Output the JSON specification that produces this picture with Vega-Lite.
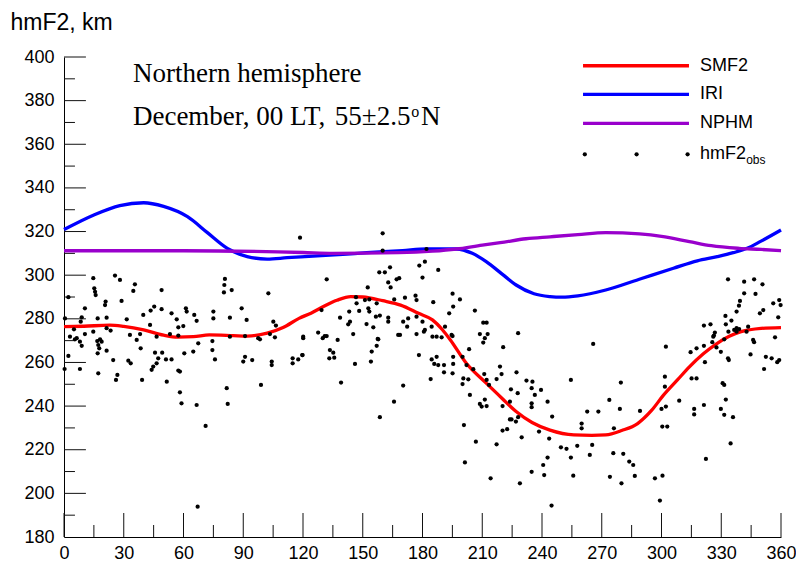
{
  "$schema": "https://vega.github.io/schema/vega-lite/v6.json",
  "width": 717,
  "height": 480,
  "autosize": {"type": "none"},
  "padding": {"left": 64, "top": 57, "right": 15, "bottom": 33},
  "background": "white",
  "config": {"view": {"stroke": null}, "font": "Liberation Sans"},
  "datasets": {
    "curves": [
      {"s":"SMF2","x":0,"y":276.4},{"s":"SMF2","x":10,"y":276.6},{"s":"SMF2","x":23,"y":277.1},{"s":"SMF2","x":30,"y":276.5},{"s":"SMF2","x":40,"y":274.9},{"s":"SMF2","x":50,"y":272.5},{"s":"SMF2","x":57,"y":271.6},{"s":"SMF2","x":65,"y":271.8},{"s":"SMF2","x":73,"y":272.6},{"s":"SMF2","x":85,"y":272.3},{"s":"SMF2","x":92,"y":272.1},{"s":"SMF2","x":102,"y":273.4},{"s":"SMF2","x":110,"y":276},{"s":"SMF2","x":118,"y":280.2},{"s":"SMF2","x":124,"y":282.6},{"s":"SMF2","x":130,"y":285.5},{"s":"SMF2","x":137,"y":288.5},{"s":"SMF2","x":144,"y":290.2},{"s":"SMF2","x":150,"y":290},{"s":"SMF2","x":160,"y":288.3},{"s":"SMF2","x":169,"y":286.3},{"s":"SMF2","x":178,"y":282.5},{"s":"SMF2","x":185,"y":279.5},{"s":"SMF2","x":190,"y":275},{"s":"SMF2","x":194,"y":270.3},{"s":"SMF2","x":202,"y":259.6},{"s":"SMF2","x":212,"y":250.5},{"s":"SMF2","x":220,"y":243.5},{"s":"SMF2","x":227,"y":237.5},{"s":"SMF2","x":235,"y":232.5},{"s":"SMF2","x":244,"y":229},{"s":"SMF2","x":256,"y":226.8},{"s":"SMF2","x":265,"y":226.6},{"s":"SMF2","x":272,"y":226.8},{"s":"SMF2","x":280,"y":228.8},{"s":"SMF2","x":288,"y":232},{"s":"SMF2","x":295,"y":238},{"s":"SMF2","x":301,"y":245},{"s":"SMF2","x":308,"y":252},{"s":"SMF2","x":314,"y":258},{"s":"SMF2","x":321,"y":264},{"s":"SMF2","x":328,"y":268.8},{"s":"SMF2","x":334,"y":272},{"s":"SMF2","x":340,"y":274.1},{"s":"SMF2","x":350,"y":275.6},{"s":"SMF2","x":360,"y":276},
      {"s":"IRI","x":0,"y":320.9},{"s":"IRI","x":15,"y":327.6},{"s":"IRI","x":28,"y":331.9},{"s":"IRI","x":40,"y":333.2},{"s":"IRI","x":50,"y":331.5},{"s":"IRI","x":62,"y":326.8},{"s":"IRI","x":72,"y":319.5},{"s":"IRI","x":82,"y":312.3},{"s":"IRI","x":92,"y":308.5},{"s":"IRI","x":102,"y":307.4},{"s":"IRI","x":112,"y":308},{"s":"IRI","x":123,"y":308.6},{"s":"IRI","x":140,"y":309.5},{"s":"IRI","x":152,"y":310.3},{"s":"IRI","x":170,"y":311.3},{"s":"IRI","x":182,"y":312},{"s":"IRI","x":197,"y":312},{"s":"IRI","x":205,"y":310},{"s":"IRI","x":212,"y":306.2},{"s":"IRI","x":220,"y":300.5},{"s":"IRI","x":227,"y":295.5},{"s":"IRI","x":236,"y":291.5},{"s":"IRI","x":244,"y":290.2},{"s":"IRI","x":250,"y":289.9},{"s":"IRI","x":258,"y":290.5},{"s":"IRI","x":272,"y":293.2},{"s":"IRI","x":290,"y":298.5},{"s":"IRI","x":306,"y":303.2},{"s":"IRI","x":318,"y":306.6},{"s":"IRI","x":328,"y":308.5},{"s":"IRI","x":336,"y":310.3},{"s":"IRI","x":343,"y":312.3},{"s":"IRI","x":350,"y":315.6},{"s":"IRI","x":360,"y":320.7},
      {"s":"NPHM","x":0,"y":311.2},{"s":"NPHM","x":60,"y":311.2},{"s":"NPHM","x":120,"y":310.4},{"s":"NPHM","x":135,"y":310},{"s":"NPHM","x":168,"y":310.3},{"s":"NPHM","x":185,"y":311},{"s":"NPHM","x":197,"y":312},{"s":"NPHM","x":210,"y":313.8},{"s":"NPHM","x":219,"y":314.9},{"s":"NPHM","x":232,"y":316.7},{"s":"NPHM","x":244,"y":317.6},{"s":"NPHM","x":258,"y":318.6},{"s":"NPHM","x":272,"y":319.5},{"s":"NPHM","x":289,"y":318.9},{"s":"NPHM","x":300,"y":317.8},{"s":"NPHM","x":314,"y":315.4},{"s":"NPHM","x":325,"y":313.5},{"s":"NPHM","x":339,"y":312.3},{"s":"NPHM","x":350,"y":311.8},{"s":"NPHM","x":360,"y":311.2}
    ],
    "obs": [
      {"x":118.5,"y":317.2},{"x":14.7,"y":298.6},{"x":25.6,"y":299.8},{"x":28.1,"y":297.8},{"x":15.2,"y":294.0},{"x":15.6,"y":292.4},{"x":15.9,"y":290.9},{"x":35.6,"y":295.8},{"x":34.8,"y":292.8},{"x":2.2,"y":289.9},{"x":49,"y":293.2},{"x":80.8,"y":298.3},{"x":80.5,"y":295.5},{"x":80.3,"y":292.1},{"x":84.2,"y":293.2},{"x":102.6,"y":291.7},{"x":28.9,"y":288.2},{"x":20.6,"y":286.3},{"x":20.9,"y":287.9},{"x":10.5,"y":284.8},{"x":45.3,"y":285.6},{"x":43.5,"y":283.8},{"x":49,"y":284.4},{"x":89.2,"y":284.8},{"x":61.2,"y":284.8},{"x":54,"y":282.5},{"x":61.6,"y":283.3},{"x":65.4,"y":281.8},{"x":39.8,"y":281.8},{"x":75,"y":283.3},{"x":75,"y":280.2},{"x":0.5,"y":280.2},{"x":8.9,"y":280.7},{"x":8.4,"y":278.7},{"x":16.9,"y":280.2},{"x":21.4,"y":280.5},{"x":31.5,"y":279.8},{"x":56.6,"y":279.8},{"x":66.6,"y":279.1},{"x":83.3,"y":280.5},{"x":91.7,"y":279.5},{"x":106.4,"y":276.9},{"x":105.1,"y":278.7},{"x":43.2,"y":277.2},{"x":57.4,"y":276.1},{"x":59.9,"y":276.7},{"x":5,"y":275.2},{"x":14.7,"y":274.1},{"x":21.4,"y":275.7},{"x":23.4,"y":274.6},{"x":10.5,"y":273},{"x":3,"y":271.8},{"x":6.4,"y":271.1},{"x":33.1,"y":272.6},{"x":38.2,"y":273},{"x":46.5,"y":271.8},{"x":53.2,"y":273},{"x":57.4,"y":272.3},{"x":83.3,"y":271.8},{"x":90.9,"y":272.1},{"x":97.5,"y":271.1},{"x":103.4,"y":273},{"x":120.1,"y":271.8},{"x":18.1,"y":270.6},
      {"x":5.5,"y":270.6},{"x":8,"y":269.5},{"x":8.9,"y":267.6},{"x":2.2,"y":263},{"x":0.3,"y":257},{"x":8,"y":257},{"x":16.7,"y":269.8},{"x":17.2,"y":268},{"x":17.7,"y":266.5},{"x":18.9,"y":269.5},{"x":16.9,"y":264.2},{"x":21.4,"y":265.4},{"x":17.2,"y":255},{"x":24.7,"y":261.1},{"x":26.8,"y":254.3},{"x":26.1,"y":252},{"x":32.3,"y":260.8},{"x":33.5,"y":259.6},{"x":36.5,"y":270.3},{"x":38.5,"y":266.5},{"x":39.2,"y":252},{"x":45.7,"y":264.5},{"x":47.3,"y":261.9},{"x":46.5,"y":259.6},{"x":44.8,"y":258.1},{"x":44,"y":256.6},{"x":49.3,"y":264.5},{"x":51.2,"y":261.4},{"x":54,"y":261.4},{"x":51.6,"y":251.2},{"x":57.4,"y":256.3},{"x":58.2,"y":255.8},{"x":58.2,"y":246.3},{"x":59,"y":241.3},{"x":60.4,"y":264.2},{"x":64.9,"y":265},{"x":67.4,"y":268.8},{"x":66.6,"y":240.5},{"x":71.1,"y":230.9},{"x":67.1,"y":193.9},{"x":74.5,"y":269.8},{"x":74.5,"y":265.7},{"x":75.8,"y":261.4},{"x":81.7,"y":248.2},{"x":82.2,"y":241},{"x":90,"y":260.4},{"x":90.9,"y":262.6},{"x":94.5,"y":261.1},{"x":98.9,"y":249.7},{"x":98.4,"y":270.6},{"x":104.3,"y":260.4},{"x":104.3,"y":258.8},{"x":105.9,"y":271.5},{"x":114.8,"y":261.9},{"x":114.8,"y":259.6},{"x":117.6,"y":261.4},{"x":119.6,"y":263.4},
      {"x":160,"y":319.2},{"x":160,"y":311.2},{"x":182,"y":312},{"x":181.2,"y":306.2},{"x":178.4,"y":304.4},{"x":187.9,"y":302.4},{"x":158.3,"y":301.3},{"x":161.1,"y":301.3},{"x":163.7,"y":303.6},{"x":180,"y":298.9},{"x":131.9,"y":298.1},{"x":168.3,"y":298.6},{"x":167,"y":298.1},{"x":162.8,"y":296.7},{"x":164,"y":294.4},{"x":152.5,"y":294.4},{"x":165.8,"y":288.9},{"x":171.2,"y":289.7},{"x":176.5,"y":290.6},{"x":177,"y":288.6},{"x":185.4,"y":287.6},{"x":195.1,"y":291.5},{"x":198.8,"y":288.9},{"x":195.4,"y":285.6},{"x":193.4,"y":282.5},{"x":146.6,"y":289.9},{"x":146.9,"y":287.1},{"x":151.1,"y":288.6},{"x":153.3,"y":288.9},{"x":157,"y":287.1},{"x":143.2,"y":283.3},{"x":148.2,"y":283.6},{"x":152.8,"y":284.8},{"x":153.3,"y":283.3},{"x":156.6,"y":281},{"x":158.6,"y":281.5},{"x":162.8,"y":280.5},{"x":138.6,"y":280.5},{"x":143.6,"y":278.7},{"x":142.7,"y":277.5},{"x":151.9,"y":277.6},{"x":155.3,"y":276.1},{"x":162.8,"y":278.7},{"x":170.3,"y":278.7},{"x":172.8,"y":280.2},{"x":177,"y":281},{"x":172.3,"y":276.4},{"x":180,"y":278.7},{"x":181.2,"y":274.9},{"x":184.6,"y":276.4},{"x":191.3,"y":276.4},{"x":129.3,"y":284},{"x":120.1,"y":271.1},{"x":127.6,"y":273.7},{"x":130.9,"y":272.1},{"x":145.2,"y":273},{"x":157.8,"y":270.6},{"x":168.7,"y":272.6},{"x":177,"y":273},{"x":187.1,"y":271.8},{"x":194.6,"y":272.6},{"x":210.5,"y":278.2},{"x":206.3,"y":283.8},{"x":228,"y":273.4},{"x":212.2,"y":278.2},
      {"x":119.8,"y":263.4},{"x":129.9,"y":271.1},{"x":131.9,"y":272.1},{"x":133.5,"y":265.7},{"x":135.2,"y":264.5},{"x":133.2,"y":261.9},{"x":135.7,"y":262.2},{"x":137.4,"y":270.3},{"x":139.1,"y":250.8},{"x":146.1,"y":259.3},{"x":154.1,"y":260.4},{"x":154.5,"y":265},{"x":157,"y":267.6},{"x":157.5,"y":270.8},{"x":167.8,"y":272.6},{"x":180.7,"y":274.1},{"x":170.3,"y":249.4},{"x":165.7,"y":242},{"x":158.6,"y":234.9},{"x":178.2,"y":263.4},{"x":184.6,"y":261.4},{"x":187.1,"y":262.6},{"x":185.9,"y":259.3},{"x":187.9,"y":258.8},{"x":190.8,"y":258.8},{"x":185,"y":271.8},{"x":189.6,"y":271.5},{"x":195.1,"y":272.1},{"x":184.1,"y":252.4},{"x":190.8,"y":255.5},{"x":195.4,"y":262.6},{"x":195.4,"y":259.3},{"x":195.1,"y":255},{"x":200.1,"y":262.6},{"x":202.1,"y":258.8},{"x":203.4,"y":266.1},{"x":200.5,"y":252.7},{"x":200.1,"y":250.1},{"x":203,"y":252.3},{"x":205.5,"y":256.9},{"x":203.8,"y":245.1},{"x":200.8,"y":231.3},{"x":201.3,"y":214.2},{"x":206.8,"y":223.7},{"x":208.8,"y":273},{"x":210.5,"y":269.1},{"x":211.3,"y":271.1},{"x":212.7,"y":273},{"x":220.5,"y":267},{"x":211,"y":254.7},{"x":212.2,"y":252},{"x":213.4,"y":249.7},{"x":217.2,"y":252.4},{"x":218.9,"y":258.1},{"x":219.7,"y":254.7},{"x":227.2,"y":255.5},{"x":232.2,"y":251.7},{"x":235.2,"y":251.2},{"x":234.8,"y":248.2},{"x":239.5,"y":247.4},{"x":224.4,"y":247.7},{"x":227.8,"y":245.9},{"x":236.4,"y":245.1},{"x":242.8,"y":242},{"x":234.8,"y":241.3},{"x":234.8,"y":239.5},{"x":223.9,"y":242},{"x":220.2,"y":240},{"x":208.8,"y":241},{"x":209.7,"y":239.8},{"x":211.3,"y":243},{"x":212.2,"y":240},{"x":223.9,"y":233.9},{"x":224.7,"y":233.9},{"x":228,"y":234.9},{"x":226.9,"y":232.9},{"x":220.2,"y":228.8},{"x":222.5,"y":229.4},{"x":229.8,"y":225.7},{"x":217.2,"y":222.5},{"x":238.5,"y":228.3},{"x":243.6,"y":225.1},{"x":242.8,"y":216.4},{"x":240.6,"y":213},{"x":234.8,"y":209.9},{"x":241.1,"y":208.4},{"x":228.9,"y":204.6},{"x":214.2,"y":206.9},
      {"x":244.8,"y":194.4},{"x":245.1,"y":235.2},{"x":249.5,"y":221.1},{"x":252.3,"y":220.4},{"x":254.5,"y":216.4},{"x":255.7,"y":208.1},{"x":254.5,"y":252},{"x":257.7,"y":221.8},{"x":259.9,"y":232},{"x":259.9,"y":229.8},{"x":262.7,"y":237.5},{"x":264,"y":217.6},{"x":265.2,"y":222.2},{"x":265.7,"y":268.5},{"x":268.3,"y":237.5},{"x":273.8,"y":242.8},{"x":274.1,"y":207.6},{"x":275.8,"y":218.4},{"x":276.1,"y":229.8},{"x":279.6,"y":250.8},{"x":279.1,"y":238.7},{"x":279.9,"y":204.6},{"x":280.8,"y":218.1},{"x":283.8,"y":214.6},{"x":285.8,"y":213},{"x":286.6,"y":208},{"x":289.2,"y":237.8},{"x":296.7,"y":206.9},{"x":299.2,"y":196.7},{"x":300.5,"y":208.1},{"x":300,"y":238.7},{"x":302.2,"y":239.8},{"x":300.4,"y":230.6},{"x":302.9,"y":230.6},{"x":301.7,"y":248.9},{"x":301.7,"y":253.5},{"x":302.2,"y":267.2},{"x":308.9,"y":242.5},{"x":314.6,"y":264.7},{"x":315.1,"y":252.7},{"x":317.6,"y":252.7},{"x":317.6,"y":266.5},{"x":316.4,"y":238.7},{"x":316.4,"y":236.2},{"x":321.3,"y":267.6},{"x":321.8,"y":260.1},{"x":321.3,"y":240.5},{"x":322.3,"y":215.8},{"x":325.5,"y":269.3},{"x":326.3,"y":272.3},{"x":326.8,"y":273.7},{"x":327.6,"y":266.9},{"x":329.8,"y":264.9},{"x":331.5,"y":270.6},{"x":333.6,"y":274.1},{"x":333.4,"y":261.9},{"x":333.8,"y":261.1},{"x":330.7,"y":250.5},{"x":331.5,"y":249.7},{"x":332.3,"y":243},{"x":329.8,"y":238.7},{"x":331.5,"y":236},{"x":335.9,"y":234.9},{"x":334.7,"y":222.9},{"x":337.7,"y":274.1},{"x":342.7,"y":274.1},{"x":344.7,"y":263.7},{"x":346,"y":270.3},{"x":346.5,"y":269.3},{"x":351.5,"y":257},{"x":352.4,"y":262.6},{"x":355.3,"y":261.9},{"x":357,"y":271.5},{"x":358.1,"y":260.1},{"x":359.1,"y":261.1},
      {"x":333.4,"y":298.1},{"x":341.5,"y":297},{"x":346.5,"y":298.1},{"x":350.7,"y":295.8},{"x":341.5,"y":291.7},{"x":347.2,"y":291.4},{"x":339.4,"y":288.2},{"x":338.9,"y":286},{"x":337.7,"y":283.3},{"x":332.1,"y":281.3},{"x":335.1,"y":279.2},{"x":332.3,"y":277.5},{"x":321.3,"y":276.9},{"x":324.6,"y":277.5},{"x":326,"y":271.8},{"x":339,"y":275.3},{"x":343.5,"y":276.4},{"x":349.4,"y":282.5},{"x":351.1,"y":284},{"x":356.1,"y":287.1},{"x":359.1,"y":288.6},{"x":359.8,"y":286.3},{"x":358.6,"y":280.7},{"x":336.5,"y":274.9},{"x":337.7,"y":275.7}
    ],
    "xticks": [
      {"x":0,"y":180,"y2":191},{"x":30,"y":180,"y2":191},{"x":60,"y":180,"y2":191},{"x":90,"y":180,"y2":191},{"x":120,"y":180,"y2":191},{"x":150,"y":180,"y2":191},{"x":180,"y":180,"y2":191},{"x":210,"y":180,"y2":191},{"x":240,"y":180,"y2":191},{"x":270,"y":180,"y2":191},{"x":300,"y":180,"y2":191},{"x":330,"y":180,"y2":191},{"x":360,"y":180,"y2":191},
      {"x":15,"y":180,"y2":185.5},{"x":45,"y":180,"y2":185.5},{"x":75,"y":180,"y2":185.5},{"x":105,"y":180,"y2":185.5},{"x":135,"y":180,"y2":185.5},{"x":165,"y":180,"y2":185.5},{"x":195,"y":180,"y2":185.5},{"x":225,"y":180,"y2":185.5},{"x":255,"y":180,"y2":185.5},{"x":285,"y":180,"y2":185.5},{"x":315,"y":180,"y2":185.5},{"x":345,"y":180,"y2":185.5}
    ],
    "yticks": [
      {"y":200,"x":0,"x2":11},{"y":220,"x":0,"x2":11},{"y":240,"x":0,"x2":11},{"y":260,"x":0,"x2":11},{"y":280,"x":0,"x2":11},{"y":300,"x":0,"x2":11},{"y":320,"x":0,"x2":11},{"y":340,"x":0,"x2":11},{"y":360,"x":0,"x2":11},{"y":380,"x":0,"x2":11},{"y":400,"x":0,"x2":11},
      {"y":190,"x":0,"x2":5.5},{"y":210,"x":0,"x2":5.5},{"y":230,"x":0,"x2":5.5},{"y":250,"x":0,"x2":5.5},{"y":270,"x":0,"x2":5.5},{"y":290,"x":0,"x2":5.5},{"y":310,"x":0,"x2":5.5},{"y":330,"x":0,"x2":5.5},{"y":350,"x":0,"x2":5.5},{"y":370,"x":0,"x2":5.5},{"y":390,"x":0,"x2":5.5}
    ],
    "legendLines": [
      {"s":"SMF2","x":260.6,"x2":313.8,"y":396.0},
      {"s":"IRI","x":260.6,"x2":313.8,"y":382.9},
      {"s":"NPHM","x":260.6,"x2":313.8,"y":369.6}
    ],
    "legendDots": [
      {"x":261.5,"y":355.4},{"x":287.5,"y":355.4},{"x":313.1,"y":355.4}
    ],
    "legendText": [
      {"t":"SMF2","x":319.3,"y":396.0},
      {"t":"IRI","x":319.3,"y":382.9},
      {"t":"NPHM","x":319.3,"y":369.6},
      {"t":"hmF2","x":319.3,"y":355.4}
    ],
    "subText": [{"t":"obs","x":342.5,"y":352.6}],
    "serifText": [
      {"t":"Northern hemisphere","x":34.6,"y":388.6},
      {"t":"December, 00 LT,","x":34.6,"y":368.8},
      {"t":"55±2.5","x":136.0,"y":368.8},
      {"t":"N","x":179.2,"y":368.8}
    ],
    "supText": [{"t":"o","x":174.3,"y":372.4}]
  },
  "encoding": {
    "x": {"field":"x","type":"quantitative","scale":{"domain":[0,360],"nice":false,"zero":false},
      "axis":{"values":[0,30,60,90,120,150,180,210,240,270,300,330,360],"title":null,"grid":false,"ticks":false,"domainColor":"#000000","domainWidth":1,"labelFont":"Liberation Sans","labelFontSize":18,"labelColor":"#000000","labelPadding":7,"labelFlush":false,"labelOverlap":false}},
    "y": {"field":"y","type":"quantitative","scale":{"domain":[180,400],"nice":false,"zero":false},
      "axis":{"values":[180,200,220,240,260,280,300,320,340,360,380,400],"title":"hmF2, km","grid":false,"ticks":false,"domainColor":"#000000","domainWidth":1,"labelFont":"Liberation Sans","labelFontSize":18,"labelColor":"#000000","labelPadding":10,"labelFlush":false,"labelOverlap":false,
        "titleFont":"Liberation Sans","titleFontSize":23,"titleFontWeight":"normal","titleColor":"#000000","titleAngle":0,"titleAlign":"left","titleBaseline":"alphabetic","titleX":-54,"titleY":-27.5}}
  },
  "layer": [
    {"data":{"name":"xticks"},"mark":{"type":"rule","color":"#111111","strokeWidth":1},"encoding":{"y2":{"field":"y2"}}},
    {"data":{"name":"yticks"},"mark":{"type":"rule","color":"#111111","strokeWidth":1},"encoding":{"x2":{"field":"x2"}}},
    {"data":{"name":"curves"},"mark":{"type":"line","interpolate":"monotone","strokeWidth":3.3},
      "encoding":{"color":{"field":"s","type":"nominal","scale":{"domain":["SMF2","IRI","NPHM"],"range":["#ff0000","#0000ff","#9900cc"]},"legend":null},"order":{"field":"x","type":"quantitative"}}},
    {"data":{"name":"obs"},"mark":{"type":"point","filled":true,"shape":"circle","size":18,"color":"#000000","opacity":1},"encoding":{}},
    {"data":{"name":"legendLines"},"mark":{"type":"rule","strokeWidth":3.3},"encoding":{"x2":{"field":"x2"},"color":{"field":"s","type":"nominal","legend":null}}},
    {"data":{"name":"legendDots"},"mark":{"type":"point","filled":true,"shape":"circle","size":18,"color":"#000000","opacity":1},"encoding":{}},
    {"data":{"name":"legendText"},"mark":{"type":"text","font":"Liberation Sans","fontSize":18,"align":"left","baseline":"middle","color":"#000000"},"encoding":{"text":{"field":"t"}}},
    {"data":{"name":"subText"},"mark":{"type":"text","font":"Liberation Sans","fontSize":12,"align":"left","baseline":"middle","color":"#000000"},"encoding":{"text":{"field":"t"}}},
    {"data":{"name":"serifText"},"mark":{"type":"text","font":"Liberation Serif","fontSize":27,"align":"left","baseline":"alphabetic","color":"#000000"},"encoding":{"text":{"field":"t"}}},
    {"data":{"name":"supText"},"mark":{"type":"text","font":"Liberation Serif","fontSize":16,"align":"left","baseline":"alphabetic","color":"#000000"},"encoding":{"text":{"field":"t"}}}
  ]
}
